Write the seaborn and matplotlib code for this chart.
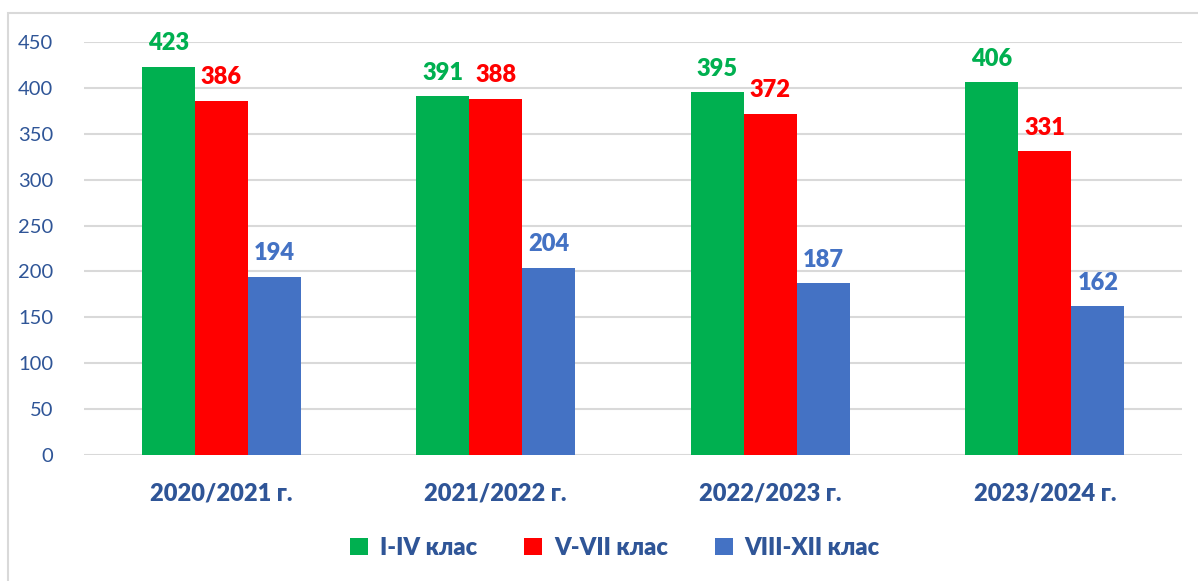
import matplotlib
matplotlib.use("Agg")
import matplotlib.pyplot as plt
import seaborn as sns
import pandas as pd
from matplotlib.patches import Rectangle

years = ["2020/2021 г.", "2021/2022 г.", "2022/2023 г.", "2023/2024 г."]
classes = ["I-IV клас", "V-VII клас", "VIII-XII клас"]
v_1_4 = [423, 391, 395, 406]
v_5_7 = [386, 388, 372, 331]
v_8_12 = [194, 204, 187, 162]
colors = ["#00B050", "#FF0000", "#4472C4"]

rows = []
for cls, vals in zip(classes, [v_1_4, v_5_7, v_8_12]):
    for y, v in zip(years, vals):
        rows.append({"year": y, "class": cls, "value": v})
df = pd.DataFrame(rows)

sns.set_theme(style="white")
plt.rcParams["font.family"] = ["Lato", "DejaVu Sans"]
text_col = "#2F5597"

fig = plt.figure(figsize=(11.98, 5.81), dpi=100)
ax = fig.add_axes([84/1198, 1-455/581, (1182-84)/1198, (455-42)/581])

sns.barplot(data=df, x="year", y="value", hue="class", palette=colors,
            saturation=1, width=0.58, ax=ax, edgecolor="none", linewidth=0)

ax.set_ylim(0, 450)
ax.set_xlim(-0.5, 3.5)
ax.set_yticks(range(0, 451, 50))
ax.yaxis.grid(True, color="#D9D9D9", linewidth=1.5)
ax.set_axisbelow(True)
for s in ax.spines.values():
    s.set_visible(False)
ax.tick_params(axis="y", length=0, pad=22, labelsize=14.5, labelcolor=text_col)
ax.tick_params(axis="x", length=0, pad=20, labelsize=17, labelcolor=text_col)
for lbl in ax.get_xticklabels():
    lbl.set_fontweight("heavy")
ax.set_xlabel("")
ax.set_ylabel("")

for cont, c in zip(ax.containers, colors):
    ax.bar_label(cont, padding=9, color=c, fontsize=17, fontweight="heavy")

handles, labels = ax.get_legend_handles_labels()
ax.legend_.remove()
fig.legend(handles, labels, loc="center", bbox_to_anchor=(615/1198, 1-548/581),
           ncol=3, frameon=False, handlelength=0.75, handleheight=0.75,
           handletextpad=0.5, columnspacing=2.0,
           prop={"size": 17, "weight": "heavy"}, labelcolor=text_col)

fig.patches.append(Rectangle((8/1198, -0.1), 1.2, 1 - 13/581 + 0.1,
                             transform=fig.transFigure, fill=False,
                             edgecolor="#D9D9D9", linewidth=1.5))

fig.savefig("out.png", dpi=100, facecolor="white")
